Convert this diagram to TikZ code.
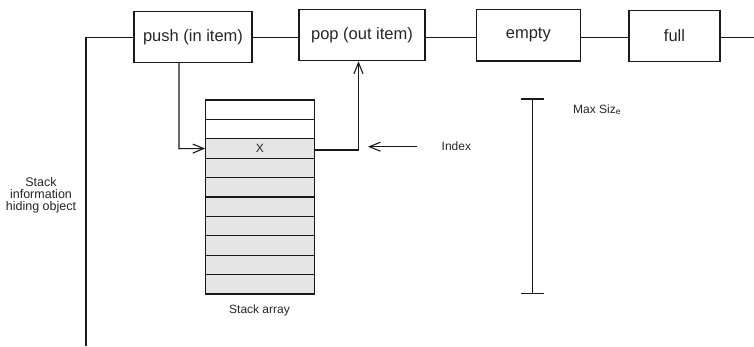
\documentclass[tikz,border=0pt]{standalone}
\usepackage{fontspec}
\setmainfont{Liberation Sans}
\usetikzlibrary{arrows.meta}
\begin{document}
\begin{tikzpicture}[x=1pt,y=-1pt,
  ln/.style={line width=1.1pt,draw=black!90},
  opbox/.style={ln,draw,rectangle,inner sep=0pt,font=\fontsize{16.5}{18}\selectfont,text=black!85},
  cell/.style={ln,draw,rectangle,inner sep=0pt,minimum width=108.3pt,minimum height=19.4pt,font=\fontsize{12}{13}\selectfont,text=black!85},
  lbl/.style={font=\fontsize{12}{12}\selectfont,text=black!85,inner sep=0pt,align=center},
  arr/.style={ln,-{Straight Barb[length=11pt,width=9pt,line width=1.1pt]}}]
\useasboundingbox (0,0) rectangle (754,346);
% operation boxes
\node[opbox,minimum width=118pt,minimum height=50.5pt] (push) at (193,37) {push (in item)};
\node[opbox,minimum width=126pt,minimum height=51.5pt] (pop) at (362,35) {pop (out item)};
\node[opbox,minimum width=103.5pt,minimum height=51.5pt] (empty) at (528.3,35.2) {empty};
\node[opbox,minimum width=91pt,minimum height=51.5pt] (full) at (674.5,35.9) {full};
\coordinate (lt) at (86,37.7);
\coordinate (lb) at (86,346);
\coordinate (rt) at (754,37.7);
\draw[ln] (lb) -- (lt) -- (lt -| push.west);
\draw[ln] (push.east |- lt) -- (pop.west |- lt);
\draw[ln] (pop.east |- lt) -- (empty.west |- lt);
\draw[ln] (empty.east |- lt) -- (full.west |- lt);
\draw[ln] (full.east |- lt) -- (rt);
% stack array
\foreach \i/\f in {1/white,2/white,3/black!10,4/black!10,5/black!10,6/black!10,7/black!10,8/black!10,9/black!10,10/black!10}{
  \node[cell,fill=\f] (c\i) at (259.9,{100+19.4*(\i-0.5)}) {};
}
\node[lbl] (x) at (c3.center) {X};
\node[lbl] (sa) at (259.5,310) {Stack array};
% push and pop arrows
\coordinate (pd) at (179,148.7);
\draw[arr] (179,62.3) -- (pd) -- (c3.west);
\coordinate (pu) at (358.5,150);
\draw[arr] (c3.east |- pu) -- (pu) -- (pu |- pop.south);
% index
\node[lbl,anchor=west] (idx) at (441.5,146) {Index};
\coordinate (ie) at (368,146.7);
\draw[arr] (416.7,146.7) -- (ie);
% max size
\coordinate (mt) at (532.3,99);
\coordinate (mb) at (532.3,293.3);
\draw[ln] (mt) -- (mb);
\draw[ln] (521,99) -- (544,99);
\draw[ln] (521,293.3) -- (544,293.3);
\node[lbl,anchor=west] (ms) at (573,110) {Max Siz\raisebox{-1pt}{\fontsize{8.5}{9}\selectfont e}};
% side label
\node[lbl,font=\fontsize{12.5}{12}\selectfont] (side) at (41,195) {Stack\\information\\hiding object};
\end{tikzpicture}
\end{document}
